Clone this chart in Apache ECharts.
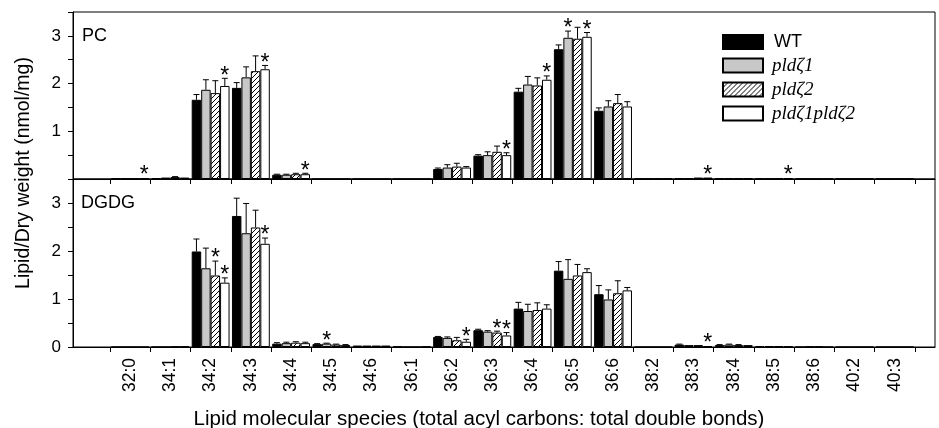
<!DOCTYPE html>
<html>
<head>
<meta charset="utf-8">
<script src="https://cdn.jsdelivr.net/npm/echarts@6.0.0/dist/echarts.min.js"></script>
<style>
  html, body { margin: 0; padding: 0; background: #fff; }
  #lipidChart { width: 939px; height: 428px; }
</style>
</head>
<body>
<div id="lipidChart"></div>
<script>
var categories = ['32:0', '34:1', '34:2', '34:3', '34:4', '34:5', '34:6', '36:1', '36:2', '36:3',
  '36:4', '36:5', '36:6', '38:2', '38:3', '38:4', '38:5', '38:6', '40:2', '40:3'];
var genotypes = ['WT', 'pldζ1', 'pldζ2', 'pldζ1pldζ2'];

// PC panel (nmol/mg)
var pcWT  = [0.01, 0.02, 1.66, 1.91, 0.09, 0, 0, 0, 0.21, 0.49, 1.83, 2.72, 1.43, 0.01, 0.02, 0.02, 0.01, 0.005, 0.005, 0.005];
var pcZ1  = [0.01, 0.03, 1.87, 2.13, 0.09, 0, 0, 0, 0.24, 0.50, 1.98, 2.96, 1.52, 0.01, 0.02, 0.02, 0.01, 0.005, 0.005, 0.005];
var pcZ2  = [0.01, 0.04, 1.80, 2.26, 0.10, 0, 0, 0, 0.26, 0.57, 1.96, 2.94, 1.59, 0.01, 0.03, 0.02, 0.02, 0.005, 0.005, 0.005];
var pcZ12 = [0.02, 0.03, 1.95, 2.30, 0.10, 0, 0, 0, 0.24, 0.50, 2.08, 2.98, 1.52, 0.01, 0.03, 0.02, 0.02, 0.005, 0.005, 0.005];
var pcWTErr  = [0, 0, 0.11, 0.11, 0.01, 0, 0, 0, 0.02, 0.02, 0.07, 0.09, 0.06, 0, 0, 0, 0, 0, 0, 0];
var pcZ1Err  = [0, 0, 0.21, 0.22, 0.01, 0, 0, 0, 0.06, 0.07, 0.17, 0.14, 0.12, 0, 0, 0, 0, 0, 0, 0];
var pcZ2Err  = [0, 0.01, 0.26, 0.32, 0.02, 0, 0, 0, 0.07, 0.12, 0.16, 0.24, 0.18, 0, 0, 0, 0, 0, 0, 0];
var pcZ12Err = [0, 0, 0.16, 0.08, 0.02, 0, 0, 0, 0.02, 0.05, 0.08, 0.09, 0.10, 0, 0, 0, 0, 0, 0, 0];
// [category index, genotype index] of the asterisks
var pcStars = [[0, 3], [2, 3], [3, 3], [4, 3], [9, 3], [10, 3], [11, 1], [11, 3], [14, 3], [16, 3]];

// DGDG panel
var dgWT  = [0, 0, 1.99, 2.73, 0.07, 0.06, 0.03, 0.01, 0.21, 0.35, 0.80, 1.59, 1.10, 0, 0.05, 0.04, 0.02, 0, 0, 0];
var dgZ1  = [0, 0, 1.64, 2.37, 0.08, 0.07, 0.03, 0, 0.19, 0.32, 0.75, 1.42, 0.99, 0, 0.04, 0.05, 0.02, 0.01, 0, 0];
var dgZ2  = [0, 0.01, 1.49, 2.49, 0.09, 0.05, 0.03, 0, 0.14, 0.30, 0.77, 1.49, 1.12, 0, 0.04, 0.04, 0.02, 0.01, 0, 0];
var dgZ12 = [0, 0.01, 1.34, 2.15, 0.08, 0.04, 0.03, 0.01, 0.11, 0.24, 0.80, 1.56, 1.18, 0, 0.02, 0.04, 0.01, 0, 0, 0];
var dgWTErr  = [0, 0, 0.26, 0.37, 0.02, 0.01, 0, 0, 0.01, 0.02, 0.13, 0.19, 0.18, 0, 0.01, 0.01, 0, 0, 0, 0];
var dgZ1Err  = [0, 0, 0.42, 0.62, 0.02, 0.01, 0, 0, 0.02, 0.02, 0.14, 0.40, 0.20, 0, 0, 0.01, 0, 0, 0, 0];
var dgZ2Err  = [0, 0, 0.30, 0.36, 0.02, 0.01, 0, 0, 0.06, 0.03, 0.15, 0.23, 0.26, 0, 0, 0.01, 0, 0, 0, 0];
var dgZ12Err = [0, 0, 0.10, 0.12, 0.02, 0.01, 0, 0, 0.05, 0.06, 0.08, 0.07, 0.06, 0, 0, 0, 0, 0, 0, 0];
var dgStars = [[2, 2], [2, 3], [3, 3], [5, 1], [8, 3], [9, 2], [9, 3], [14, 3]];

var FONT = 'Liberation Sans, Arial, sans-serif';
var BAR_FRAC = 0.235;

// diagonal hatch for pldζ2
function makeHatch() {
  var n = 5;
  var c = document.createElement('canvas');
  c.width = n; c.height = n;
  var ctx = c.getContext('2d');
  ctx.fillStyle = '#fff';
  ctx.fillRect(0, 0, n, n);
  ctx.strokeStyle = '#000';
  ctx.lineWidth = 1;
  ctx.beginPath();
  ctx.moveTo(-1, n + 1); ctx.lineTo(n + 1, -1);
  ctx.moveTo(-1, 1); ctx.lineTo(1, -1);
  ctx.moveTo(n - 1, n + 1); ctx.lineTo(n + 1, n - 1);
  ctx.stroke();
  return c;
}
var fills = ['#000', '#c8c8c8', { image: makeHatch(), repeat: 'repeat' }, '#fff'];

function barData(values) {
  return values.map(function (v, i) { return [i + 0.5, v]; });
}

function errData(means, errs, stars) {
  var out = [];
  for (var k = 0; k < 4; k++) {
    for (var i = 0; i < categories.length; i++) {
      var star = 0;
      stars.forEach(function (s) { if (s[0] === i && s[1] === k) star = 1; });
      out.push([i + 0.5, means[k][i], errs[k][i], k, star]);
    }
  }
  return out;
}

function renderErr(params, api) {
  var unit = api.size([1, 0])[0];
  var barW = unit * BAR_FRAC;
  var k = api.value(3);
  var top = api.coord([api.value(0), api.value(1)]);
  var cx = top[0] + (k - 1.5) * barW;
  var children = [];
  var yTop = top[1];
  var err = api.value(2);
  if (err > 0) {
    var yErr = api.coord([api.value(0), api.value(1) + err])[1];
    children.push({ type: 'line', shape: { x1: cx, y1: top[1], x2: cx, y2: yErr }, style: { stroke: '#000', lineWidth: 1 } });
    children.push({ type: 'line', shape: { x1: cx - 3, y1: yErr, x2: cx + 3, y2: yErr }, style: { stroke: '#000', lineWidth: 1 } });
    yTop = yErr;
  }
  if (api.value(4)) {
    children.push({ type: 'text', style: { text: '*', x: cx, y: yTop - 2, textAlign: 'center', textVerticalAlign: 'middle', font: '23px ' + FONT, fill: '#000' } });
  }
  return { type: 'group', children: children };
}

var xTicks = [], xLabels = [];
for (var i = 0; i <= categories.length; i++) xTicks.push(i);
for (var j = 0; j < categories.length; j++) xLabels.push(j + 0.5);

function makeX(gridIndex, showLabels) {
  return {
    type: 'value', gridIndex: gridIndex, min: -0.92, max: 20.5,
    splitLine: { show: false },
    axisLine: { show: true, onZero: false, lineStyle: { color: '#000', width: 1 } },
    axisTick: { show: true, customValues: xTicks, length: 5, lineStyle: { color: '#000' } },
    axisLabel: {
      show: showLabels, customValues: xLabels, rotate: 90, margin: 11,
      color: '#000', fontSize: 17.5, fontFamily: FONT,
      formatter: function (v) { return categories[Math.floor(v)]; }
    }
  };
}

function makeY(gridIndex, hideZero) {
  return {
    type: 'value', gridIndex: gridIndex, min: 0, max: 3.5, interval: 0.5,
    splitLine: { show: false },
    axisLine: { show: true, onZero: false, lineStyle: { color: '#000', width: 1 } },
    axisTick: { show: true, length: 5, lineStyle: { color: '#000' } },
    axisLabel: {
      color: '#000', fontSize: 17, fontFamily: FONT, margin: 12,
      formatter: function (v) {
        if (v % 1 !== 0 || v === 3.5) return '';
        if (hideZero && v === 0) return '';
        return String(v);
      }
    }
  };
}

var pcMeans = [pcWT, pcZ1, pcZ2, pcZ12];
var pcErrs = [pcWTErr, pcZ1Err, pcZ2Err, pcZ12Err];
var dgMeans = [dgWT, dgZ1, dgZ2, dgZ12];
var dgErrs = [dgWTErr, dgZ1Err, dgZ2Err, dgZ12Err];

var series = [];
[pcMeans, dgMeans].forEach(function (means, panel) {
  means.forEach(function (vals, k) {
    series.push({
      name: genotypes[k], type: 'bar', xAxisIndex: panel, yAxisIndex: panel,
      data: barData(vals), barWidth: (BAR_FRAC * 100) + '%', barGap: '0%',
      itemStyle: { color: fills[k], borderColor: '#000', borderWidth: 1 },
      emphasis: { disabled: true }, animation: false
    });
  });
});
series.push({
  type: 'custom', name: 'pcErr', xAxisIndex: 0, yAxisIndex: 0, renderItem: renderErr,
  encode: { x: 0, y: 1 }, data: errData(pcMeans, pcErrs, pcStars), z: 5, silent: true
});
series.push({
  type: 'custom', name: 'dgErr', xAxisIndex: 1, yAxisIndex: 1, renderItem: renderErr,
  encode: { x: 0, y: 1 }, data: errData(dgMeans, dgErrs, dgStars), z: 5, silent: true
});

var chartDom = document.getElementById('lipidChart');
var lipidChart = echarts.init(chartDom, null, { renderer: 'canvas' });
var option = {
  animation: false,
  grid: [
    { left: 73, right: 4, top: 12, height: 167, show: true, borderColor: '#000', borderWidth: 1 },
    { left: 73, right: 4, top: 179, height: 168, show: true, borderColor: '#000', borderWidth: 1 }
  ],
  xAxis: [makeX(0, false), makeX(1, true)],
  yAxis: [makeY(0, true), makeY(1, false)],
  legend: {
    data: genotypes, orient: 'vertical', left: 722, top: 33, padding: 0, icon: 'rect',
    itemWidth: 40, itemHeight: 14, itemGap: 5, selectedMode: false,
    formatter: function (name) { return name === 'WT' ? '{s|WT}' : '{i|' + name + '}'; },
    textStyle: {
      color: '#000',
      rich: {
        s: { fontFamily: FONT, fontSize: 18, color: '#000', padding: [0, 0, 0, 6] },
        i: { fontFamily: 'Liberation Serif, Times New Roman, serif', fontStyle: 'italic', fontWeight: 'normal', fontSize: 19, color: '#000', padding: [0, 0, 0, 4] }
      }
    }
  },
  graphic: [
    { type: 'text', left: 82, top: 27, style: { text: 'PC', font: '18px ' + FONT, fill: '#000' } },
    { type: 'text', left: 81, top: 194, style: { text: 'DGDG', font: '18px ' + FONT, fill: '#000' } },
    { type: 'text', x: 24, y: 173, rotation: Math.PI / 2,
      style: { text: 'Lipid/Dry weight (nmol/mg)', font: '19.5px ' + FONT, fill: '#000', textAlign: 'center', textVerticalAlign: 'middle' } },
    { type: 'text', x: 479, y: 419,
      style: { text: 'Lipid molecular species (total acyl carbons: total double bonds)', font: '20.5px ' + FONT, fill: '#000', textAlign: 'center', textVerticalAlign: 'middle' } }
  ],
  series: series
};
option && lipidChart.setOption(option);
</script>
</body>
</html>
